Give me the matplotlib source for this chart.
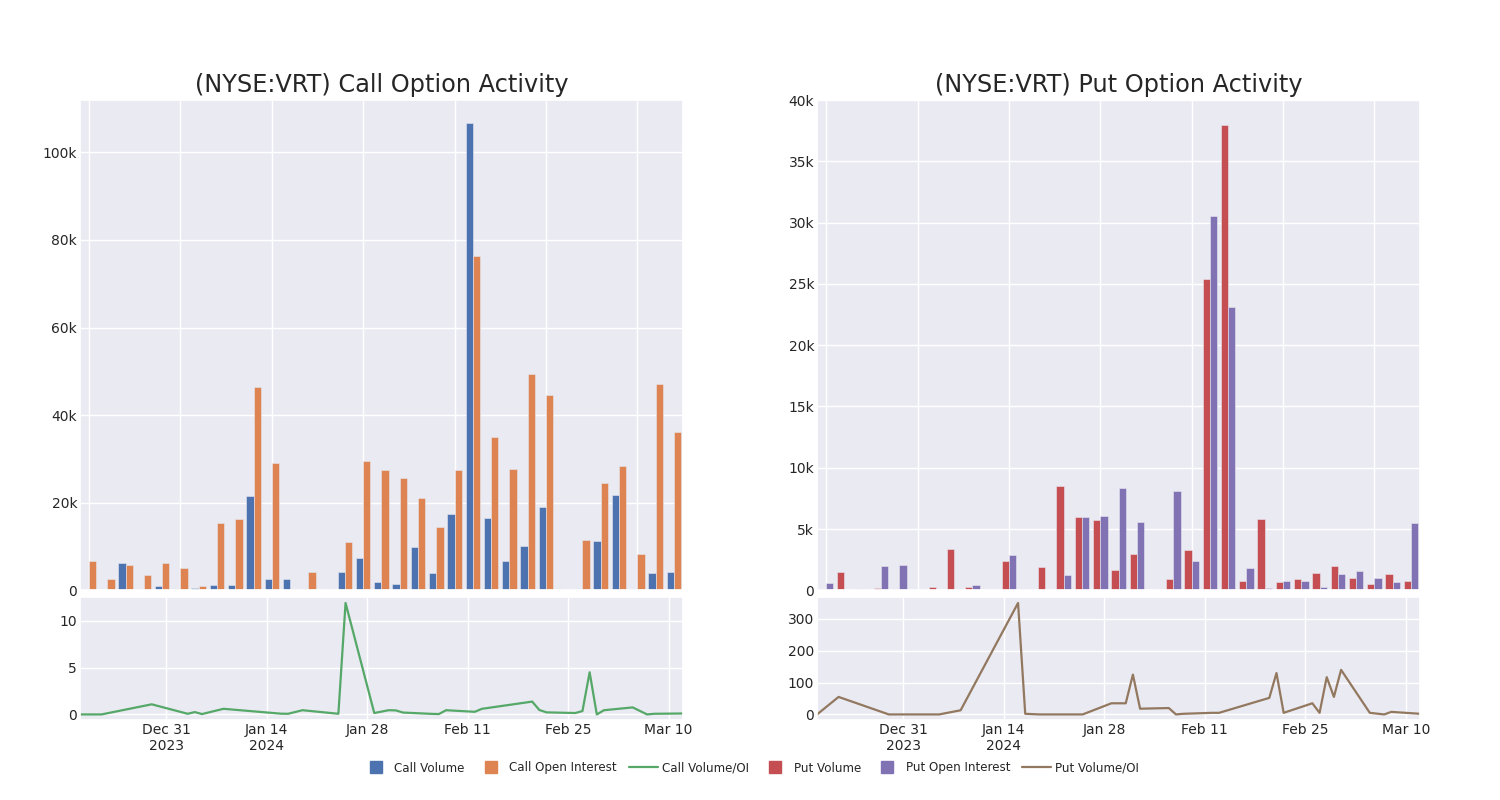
import matplotlib
matplotlib.use("Agg")
import matplotlib.pyplot as plt
from matplotlib.lines import Line2D
from matplotlib.ticker import FuncFormatter, MultipleLocator
import seaborn as sns
import numpy as np
import pandas as pd

sns.set_theme(style="darkgrid")

# fechas de negociacion
fechas = pd.to_datetime([
    "2023-12-19", "2023-12-22", "2023-12-29", "2024-01-03", "2024-01-04",
    "2024-01-05", "2024-01-08", "2024-01-16", "2024-01-17", "2024-01-19",
    "2024-01-24", "2024-01-25", "2024-01-29", "2024-01-31", "2024-02-01",
    "2024-02-02", "2024-02-06", "2024-02-07", "2024-02-08", "2024-02-12",
    "2024-02-13", "2024-02-20", "2024-02-21", "2024-02-22", "2024-02-26",
    "2024-02-27", "2024-02-28", "2024-02-29", "2024-03-01", "2024-03-05",
    "2024-03-07", "2024-03-08", "2024-03-12",
])

call_volume = [0, 0, 6200, 200, 1100, 300, 500, 1200, 1200, 21500,
               2500, 2700, 400, 100, 4300, 7300, 1800, 1400, 9900, 3900,
               17400, 106600, 16500, 6600, 10100, 19000, 200, 400, 11200, 21700,
               200, 3900, 4300]
call_oi = [6600, 2700, 5700, 3400, 6200, 5000, 900, 15300, 16200, 46400,
           29100, 230, 4300, 200, 11000, 29500, 27500, 25700, 21000, 14500,
           27500, 76400, 35000, 27700, 49400, 44600, 50, 11400, 24500, 28400,
           8200, 47100, 36200]
call_ratio = [0, 0, 1.08, 0.07, 0.25, 0.04, 0.6, 0.08, 0.07, 0.45,
              0.07, 11.9, 0.15, 0.45, 0.43, 0.2, 0.06, 0.04, 0.45, 0.28,
              0.6, 1.37, 0.47, 0.22, 0.15, 0.36, 4.5, 0.0, 0.45, 0.75,
              0.0, 0.07, 0.1]

put_volume = [100, 1500, 100, 200, 100, 20, 300, 3400, 300, 50,
              2400, 100, 1900, 8500, 6000, 5700, 1700, 3000, 50, 900,
              3300, 25400, 38000, 800, 5800, 700, 950, 1450, 2000, 1000,
              500, 1350, 800]
put_oi = [600, 20, 100, 2000, 2100, 50, 50, 10, 400, 50,
          2900, 100, 100, 1250, 6000, 6100, 8350, 5600, 50, 8100,
          2400, 30550, 23100, 1850, 200, 800, 800, 270, 1300, 1600,
          1000, 700, 5500]
put_ratio = [0, 55, 0, 0, 0, 0, 13, 350, 2, 0,
             0, 0, 35, 35, 125, 18, 20, 0, 2, 5,
             5, 52, 130, 5, 35, 5, 117, 55, 140, 5,
             0, 8, 2]

azul, naranja, verde, rojo, morado, marron = (
    "#4C72B0", "#DD8452", "#55A868", "#C44E52", "#8172B3", "#937860")

fig = plt.figure(figsize=(15, 8), dpi=100)
gs_izq = fig.add_gridspec(2, 1, left=0.0533, right=0.4553, top=0.875, bottom=0.10,
                          height_ratios=[4, 1], hspace=0.023)
gs_der = fig.add_gridspec(2, 1, left=0.5447, right=0.9467, top=0.875, bottom=0.10,
                          height_ratios=[4, 1], hspace=0.023)

fmt_k = FuncFormatter(lambda v, p: "0" if v == 0 else f"{int(v / 1000)}k")
x = np.arange(len(fechas))
ticks_fecha = pd.date_range("2023-12-31", "2024-03-10", freq="14D")
etiquetas = ["Dec 31\n2023", "Jan 14\n2024", "Jan 28", "Feb 11", "Feb 25", "Mar 10"]


def panel(gs, titulo, vol, oi, ratio, c1, c2, c3):
    ax_b = fig.add_subplot(gs[0])
    ax_l = fig.add_subplot(gs[1])
    ax_b.bar(x - 0.2, vol, 0.4, color=c1, edgecolor="#e8e8f0", linewidth=0.4)
    ax_b.bar(x + 0.2, oi, 0.4, color=c2, edgecolor="#e8e8f0", linewidth=0.4)
    ax_b.set_xlim(-0.5, len(x) - 0.5)
    ax_b.set_ylim(bottom=0)
    ax_b.xaxis.set_major_locator(MultipleLocator(5))
    ax_b.tick_params(axis="x", labelbottom=False)
    ax_b.yaxis.set_major_formatter(fmt_k)
    ax_b.set_title(titulo, fontsize=17.3)

    ax_l.plot(fechas, ratio, color=c3, linewidth=1.6)
    ax_l.set_xlim(fechas[0], fechas[-1])
    ax_l.set_xticks(ticks_fecha)
    ax_l.set_xticklabels(etiquetas)
    for a in (ax_b, ax_l):
        a.tick_params(labelsize=10, length=0, pad=2)
    return ax_b, ax_l


axb1, axl1 = panel(gs_izq, "(NYSE:VRT) Call Option Activity", call_volume, call_oi,
                   call_ratio, azul, naranja, verde)
axb2, axl2 = panel(gs_der, "(NYSE:VRT) Put Option Activity", put_volume, put_oi,
                   put_ratio, rojo, morado, marron)
axb2.set_ylim(0, 40000)
axl1.yaxis.set_major_locator(MultipleLocator(5))
axl2.yaxis.set_major_locator(MultipleLocator(100))


def cuadro(c):
    return Line2D([], [], marker="s", linestyle="None", markersize=8, color=c)


def linea(c):
    return Line2D([], [], color=c, linewidth=1.6)


h = [cuadro(azul), cuadro(naranja), linea(verde), cuadro(rojo), cuadro(morado), linea(marron)]
l = ["Call Volume", "Call Open Interest", "Call Volume/OI",
     "Put Volume", "Put Open Interest", "Put Volume/OI"]
fig.legend(h, l, loc="center", ncol=6, frameon=False, fontsize=8.6,
           handlelength=2.4, handletextpad=0.35, columnspacing=1.0,
           bbox_to_anchor=(0.5, 0.04))

fig.savefig("out.png", dpi=100)
